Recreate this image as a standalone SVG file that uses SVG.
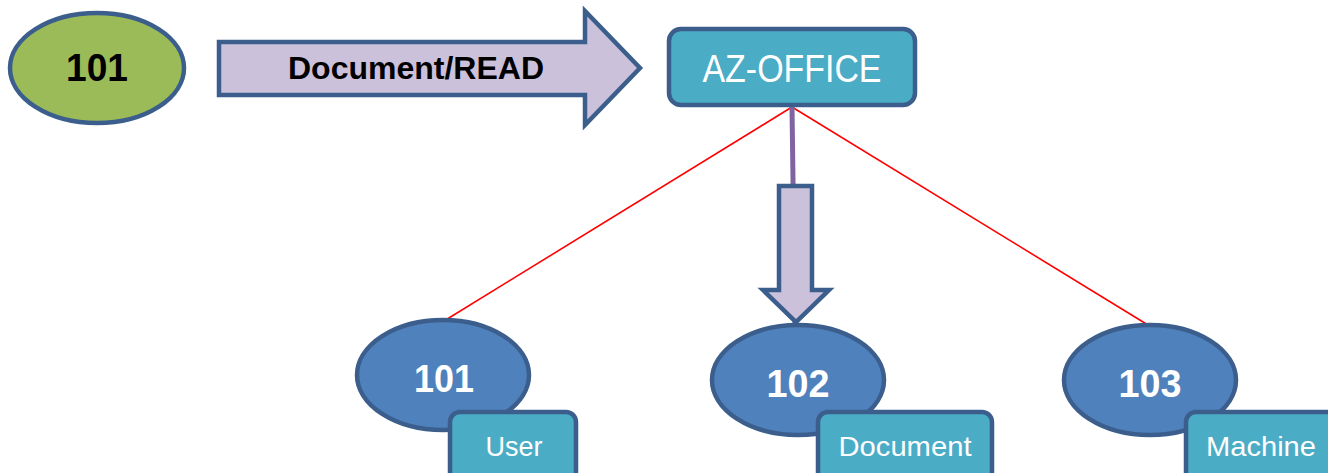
<svg xmlns="http://www.w3.org/2000/svg" width="1328" height="473" viewBox="0 0 1328 473">
  <style>
    .outline { stroke: #3B5E8C; stroke-width: 4.5; stroke-linejoin: miter; }
    .block { fill: #CCC1DA; }
    .tag { fill: #4BACC6; }
    .id { fill: #4F81BD; }
    .lbl { font-family: "Liberation Sans", Arial, sans-serif; text-anchor: middle; }
    .num { font-family: "Liberation Sans", Arial, sans-serif; font-weight: bold; font-size: 38px; text-anchor: middle; }
    .ray { stroke: #FF0000; stroke-width: 1.6; fill: none; }
  </style>

  <!-- connectors -->
  <g id="connectors">
    <line class="ray" x1="792" y1="107" x2="444" y2="321"/>
    <line class="ray" x1="792" y1="107" x2="1148" y2="325"/>
    <line x1="792" y1="107" x2="795" y2="325" stroke="#8064A2" stroke-width="5"/>
    <!-- block arrow into 102 -->
    <polygon class="block outline" points="779,186 812,186 812,290 829,290 796,322 763,290 779,290"/>
  </g>

  <!-- requesting user -->
  <g id="requester">
    <ellipse cx="97" cy="68" rx="87" ry="55" fill="#9BBB59" class="outline"/>
    <text class="num" x="97" y="81" fill="#000" textLength="62" lengthAdjust="spacingAndGlyphs">101</text>
  </g>

  <!-- request arrow -->
  <g id="request">
    <polygon class="block outline" points="219,42 585,42 585,11 640,68 585,125 585,95 219,95"/>
    <text class="lbl" x="416" y="79" font-size="31" font-weight="bold" fill="#000" textLength="256" lengthAdjust="spacingAndGlyphs">Document/READ</text>
  </g>

  <!-- office node -->
  <g id="az-office">
    <rect x="669" y="29" width="246" height="76" rx="12" class="tag outline" stroke-width="5"/>
    <text class="lbl" x="792" y="82" font-size="38" fill="#FFF" textLength="179" lengthAdjust="spacingAndGlyphs">AZ-OFFICE</text>
  </g>

  <!-- 101 / User -->
  <g id="user">
    <ellipse cx="443" cy="375" rx="86" ry="55" class="id outline"/>
    <text class="num" x="444" y="392" fill="#FFF" textLength="60" lengthAdjust="spacingAndGlyphs">101</text>
    <rect x="450" y="412" width="126" height="70" rx="10" class="tag outline"/>
    <text class="lbl" x="514" y="456" font-size="28" fill="#FFF" textLength="57" lengthAdjust="spacingAndGlyphs">User</text>
  </g>

  <!-- 102 / Document -->
  <g id="document">
    <ellipse cx="798" cy="380" rx="86" ry="55" class="id outline"/>
    <text class="num" x="798" y="397" fill="#FFF" textLength="63" lengthAdjust="spacingAndGlyphs">102</text>
    <rect x="818" y="412" width="174" height="70" rx="10" class="tag outline"/>
    <text class="lbl" x="905" y="456" font-size="28" fill="#FFF" textLength="133" lengthAdjust="spacingAndGlyphs">Document</text>
  </g>

  <!-- 103 / Machine -->
  <g id="machine">
    <ellipse cx="1150" cy="380" rx="86" ry="55" class="id outline"/>
    <text class="num" x="1150" y="397" fill="#FFF" textLength="63" lengthAdjust="spacingAndGlyphs">103</text>
    <rect x="1186" y="412" width="160" height="70" rx="10" class="tag outline"/>
    <text class="lbl" x="1261" y="456" font-size="28" fill="#FFF" textLength="110" lengthAdjust="spacingAndGlyphs">Machine</text>
  </g>
</svg>
